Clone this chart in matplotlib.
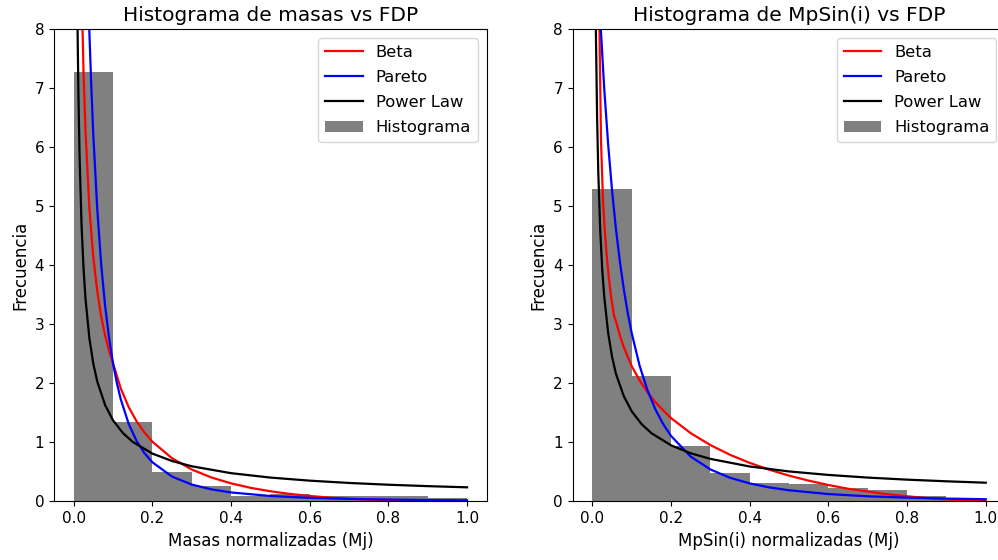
import matplotlib
matplotlib.use("Agg")
import matplotlib.pyplot as plt

# ---------------- data ----------------
bin_edges = [0.0, 0.1, 0.2, 0.3, 0.4, 0.5, 0.6, 0.7, 0.8, 0.9, 1.0]

# left panel: masses (density histogram)
hist_masas = [7.28, 1.34, 0.50, 0.26, 0.09, 0.12, 0.09, 0.09, 0.09, 0.05]

beta_masas_x = [0.015, 0.02, 0.025, 0.03, 0.04, 0.05, 0.06, 0.07, 0.08, 0.09,
                0.10, 0.12, 0.14, 0.16, 0.18, 0.20, 0.25, 0.30, 0.35, 0.40,
                0.45, 0.50, 0.55, 0.60, 0.65, 0.70, 0.75, 0.80, 0.85, 0.90,
                0.95, 1.00]
beta_masas_y = [11.09, 8.76, 7.29, 6.28, 4.96, 4.13, 3.56, 3.13, 2.81, 2.55,
                2.34, 1.908, 1.595, 1.355, 1.165, 1.011, 0.730, 0.539, 0.404, 0.304,
                0.228, 0.170, 0.125, 0.090, 0.063, 0.043, 0.027, 0.016, 0.008, 0.003,
                0.001, 0.0]

pareto_masas_x = [0.030, 0.035, 0.040, 0.045, 0.050, 0.06, 0.07, 0.08, 0.09, 0.10,
                  0.11, 0.12, 0.14, 0.16, 0.18, 0.20, 0.25, 0.30, 0.35, 0.40,
                  0.50, 0.60, 0.70, 0.80, 0.90, 1.00]
pareto_masas_y = [10.45, 9.07, 7.94, 7.00, 6.20, 4.95, 4.01, 3.31, 2.77, 2.34,
                  2.00, 1.723, 1.310, 1.022, 0.815, 0.662, 0.419, 0.284, 0.203, 0.150,
                  0.090, 0.059, 0.041, 0.030, 0.022, 0.017]

power_masas_x = [0.008, 0.010, 0.012, 0.015, 0.020, 0.025, 0.030, 0.040, 0.050, 0.060,
                 0.080, 0.100, 0.125, 0.150, 0.200, 0.250, 0.300, 0.400, 0.500, 0.600,
                 0.700, 0.800, 0.900, 1.000]
power_masas_y = [9.43, 7.96, 6.93, 5.84, 4.69, 3.96, 3.44, 2.76, 2.33, 2.03,
                 1.63, 1.373, 1.158, 1.008, 0.809, 0.683, 0.594, 0.477, 0.402, 0.350,
                 0.311, 0.281, 0.257, 0.237]

# right panel: MpSin(i) (density histogram)
hist_mpsin = [5.29, 2.12, 0.94, 0.485, 0.315, 0.29, 0.23, 0.19, 0.09, 0.04]

beta_mpsin_x = [0.014, 0.016, 0.018, 0.022, 0.027, 0.032, 0.036, 0.042, 0.048, 0.055,
                0.06, 0.07, 0.08, 0.10, 0.12, 0.14, 0.16, 0.18, 0.20, 0.25,
                0.30, 0.35, 0.40, 0.45, 0.50, 0.55, 0.60, 0.65, 0.70, 0.75,
                0.80, 0.85, 0.90, 0.95, 1.00]
beta_mpsin_y = [11.5, 9.5, 8.0, 6.1, 5.1, 4.55, 4.2, 3.78, 3.45, 3.15,
                3.05, 2.81, 2.61, 2.29, 2.05, 1.85, 1.68, 1.54, 1.41, 1.155,
                0.953, 0.788, 0.651, 0.535, 0.435, 0.350, 0.276, 0.213, 0.165, 0.120,
                0.085, 0.055, 0.032, 0.015, 0.004]

pareto_mpsin_x = [0.015, 0.02, 0.03, 0.04, 0.05, 0.06, 0.07, 0.08, 0.09, 0.10,
                  0.12, 0.14, 0.16, 0.18, 0.20, 0.25, 0.30, 0.35, 0.40, 0.45,
                  0.50, 0.60, 0.70, 0.80, 0.90, 1.00]
pareto_mpsin_y = [8.86, 8.18, 7.01, 6.06, 5.27, 4.61, 4.06, 3.59, 3.19, 2.85,
                  2.30, 1.883, 1.561, 1.308, 1.108, 0.757, 0.540, 0.399, 0.303, 0.235,
                  0.187, 0.123, 0.085, 0.062, 0.046, 0.035]

power_mpsin_x = [0.005, 0.007, 0.009, 0.012, 0.015, 0.020, 0.025, 0.030, 0.040, 0.050,
                 0.060, 0.080, 0.100, 0.125, 0.150, 0.200, 0.250, 0.300, 0.400, 0.500,
                 0.600, 0.700, 0.800, 0.900, 1.000]
power_mpsin_y = [11.87, 9.43, 7.94, 6.52, 5.59, 4.59, 3.94, 3.48, 2.86, 2.45,
                 2.16, 1.78, 1.525, 1.309, 1.155, 0.949, 0.814, 0.719, 0.590, 0.506,
                 0.447, 0.402, 0.367, 0.339, 0.315]

titles = ["Histograma de masas vs FDP", "Histograma de MpSin(i) vs FDP"]
xlabels = ["Masas normalizadas (Mj)", "MpSin(i) normalizadas (Mj)"]
ylabel = "Frecuencia"
legend_labels = ["Beta", "Pareto", "Power Law", "Histograma"]

# ---------------- figure ----------------
W, H = 998, 560
fig = plt.figure(figsize=(W / 100, H / 100), dpi=100)
ax1 = fig.add_axes([54 / W, (H - 501.3) / H, 432.7 / W, 472 / H])
ax2 = fig.add_axes([572.7 / W, (H - 501.3) / H, 432.7 / W, 472 / H])

panels = [
    (ax1, hist_masas, (beta_masas_x, beta_masas_y), (pareto_masas_x, pareto_masas_y),
     (power_masas_x, power_masas_y)),
    (ax2, hist_mpsin, (beta_mpsin_x, beta_mpsin_y), (pareto_mpsin_x, pareto_mpsin_y),
     (power_mpsin_x, power_mpsin_y)),
]

centers = [(bin_edges[i] + bin_edges[i + 1]) / 2 for i in range(len(bin_edges) - 1)]

for i, (ax, hist, beta, pareto, power) in enumerate(panels):
    _, _, patches = ax.hist(centers, bins=bin_edges, weights=hist, color="gray",
                            label=legend_labels[3], zorder=1)
    lb, = ax.plot(beta[0], beta[1], color="red", lw=1.6, label=legend_labels[0], zorder=2)
    lp, = ax.plot(pareto[0], pareto[1], color="blue", lw=1.6, label=legend_labels[1], zorder=2)
    lw_, = ax.plot(power[0], power[1], color="black", lw=1.6, label=legend_labels[2], zorder=2)
    ax.set_xlim(-0.05, 1.05)
    ax.set_ylim(0, 8)
    ax.set_xticks([0.0, 0.2, 0.4, 0.6, 0.8, 1.0])
    ax.set_yticks(range(0, 9))
    ax.tick_params(labelsize=11)
    ax.set_title(titles[i], fontsize=14.5)
    ax.set_xlabel(xlabels[i], fontsize=12)
    ax.set_ylabel(ylabel, fontsize=12)
    ax.legend([lb, lp, lw_, patches[0]], legend_labels, loc="upper right",
              fontsize=11.8, labelspacing=0.62, handlelength=2.3,
              borderaxespad=0.55)

fig.savefig("out.png", dpi=100)
